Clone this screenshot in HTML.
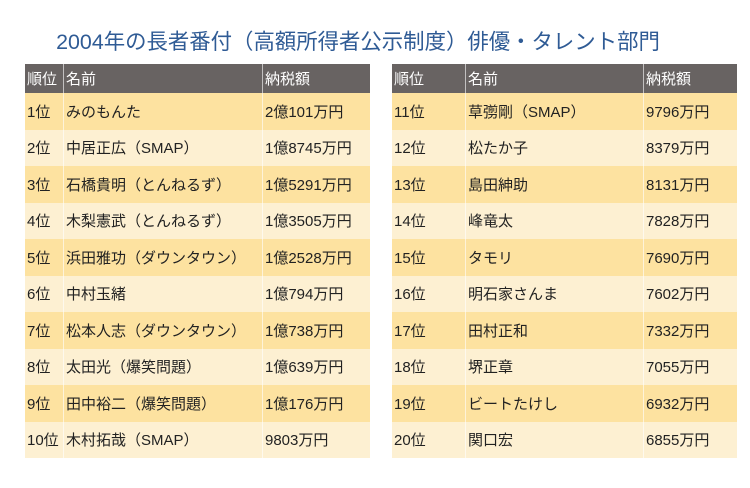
<!DOCTYPE html>
<html><head><meta charset="utf-8">
<style>
body{margin:0;width:750px;height:488px;background:#fff;position:relative;overflow:hidden;font-family:"Liberation Sans","Noto Sans CJK JP",sans-serif;}
#title{position:absolute;left:0;width:716px;top:29px;text-align:center;font-size:21.4px;color:#2f5b95;white-space:nowrap;line-height:26px;}
.tbl{position:absolute;top:64px;}
.row{position:absolute;left:0;height:36.5px;}
.cell{position:absolute;top:0;height:100%;display:flex;align-items:center;font-size:15px;color:#222;white-space:nowrap;box-sizing:border-box;padding-left:2px;}
.hdr .cell{color:#fff;}
.c2,.c3{border-left:1px solid rgba(255,255,255,0.6);}
</style></head><body>
<div id="title">2004年の長者番付（高額所得者公示制度）俳優・タレント部門</div>
<div id="left" class="tbl" style="left:25px;width:345px;"></div>
<div id="right" class="tbl" style="left:392px;width:345px;"></div>
<script>
const ranks=["1位","2位","3位","4位","5位","6位","7位","8位","9位","10位","11位","12位","13位","14位","15位","16位","17位","18位","19位","20位"];
const names=["みのもんた","中居正広（SMAP）","石橋貴明（とんねるず）","木梨憲武（とんねるず）","浜田雅功（ダウンタウン）","中村玉緒","松本人志（ダウンタウン）","太田光（爆笑問題）","田中裕二（爆笑問題）","木村拓哉（SMAP）","草彅剛（SMAP）","松たか子","島田紳助","峰竜太","タモリ","明石家さんま","田村正和","堺正章","ビートたけし","関口宏"];
const taxes=["2億101万円","1億8745万円","1億5291万円","1億3505万円","1億2528万円","1億794万円","1億738万円","1億639万円","1億176万円","9803万円","9796万円","8379万円","8131万円","7828万円","7690万円","7602万円","7332万円","7055万円","6932万円","6855万円"];
const headers=["順位","名前","納税額"];
function build(container,start,cols){
  const W=345,H0=29,RH=36.5;
  const mk=(y,h,bg,vals,isHdr,idx)=>{
    const r=document.createElement('div');
    r.className='row'+(isHdr?' hdr':'');
    
    
    r.style.top=y+'px';r.style.height=h+'px';r.style.width=W+'px';r.style.background=bg;
    vals.forEach((v,k)=>{
      const c=document.createElement('div');
      c.className='cell c'+(k+1);
      
      
      c.style.left=cols[k]+'px';c.style.width=((k<2?cols[k+1]:W)-cols[k])+'px';
      c.textContent=v;r.appendChild(c);
    });
    container.appendChild(r);
  };
  mk(0,H0,'#686362',headers,true,0);
  for(let i=0;i<10;i++){
    const j=start+i;
    mk(H0+i*RH,RH,i%2===0?'#fde2a0':'#fdf0d2',[ranks[j],names[j],taxes[j]],false,j);
  }
}
build(document.getElementById('left'),0,[0,38,237]);
build(document.getElementById('right'),10,[0,73,251]);
</script>
</body></html>
